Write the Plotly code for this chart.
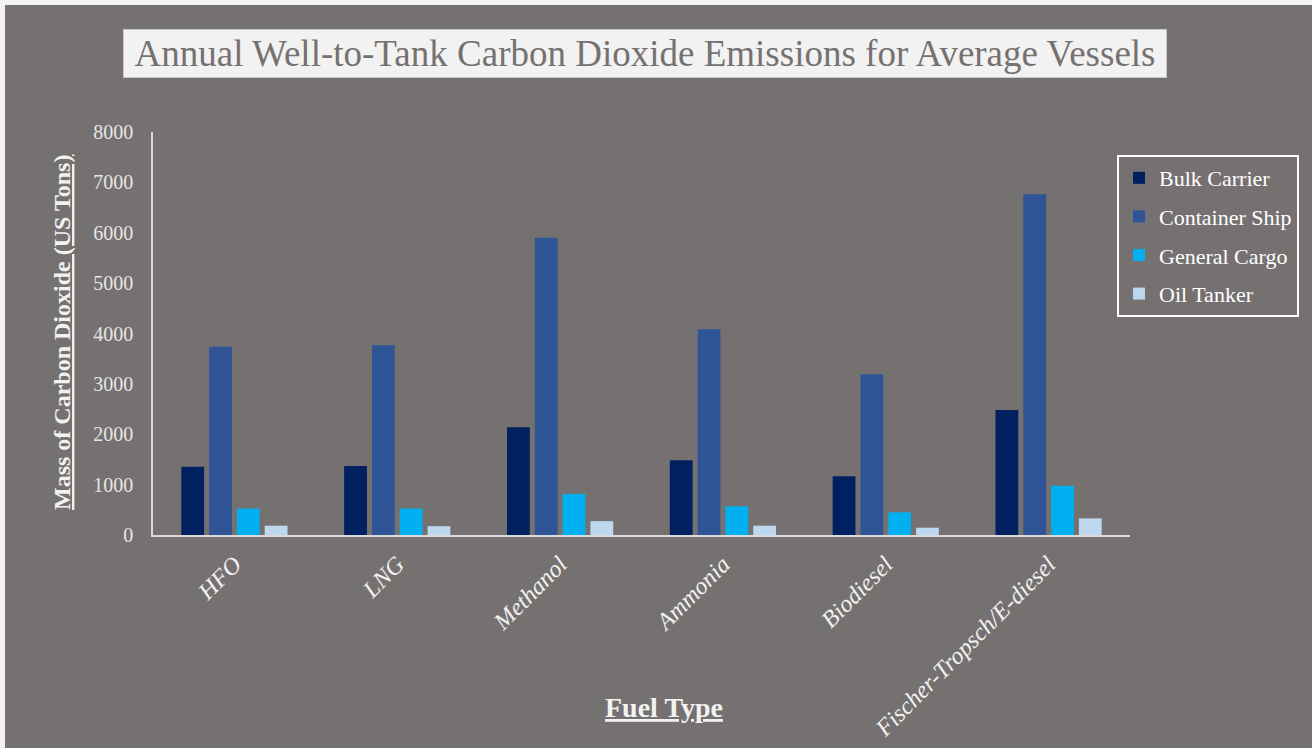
import plotly.graph_objects as go

fuel_types = ["HFO", "LNG", "Methanol", "Ammonia", "Biodiesel", "Fischer-Tropsch/E-diesel"]
bulk_carrier = [1355, 1370, 2140, 1485, 1165, 2480]
container_ship = [3735, 3765, 5900, 4085, 3190, 6765]
general_cargo = [525, 525, 815, 570, 450, 980]
oil_tanker = [185, 175, 275, 185, 145, 330]

series_names = ["Bulk Carrier", "Container Ship", "General Cargo", "Oil Tanker"]
series_values = [bulk_carrier, container_ship, general_cargo, oil_tanker]
series_colors = ["#002060", "#2f5597", "#00b0f0", "#bdd7ee"]

W, H = 1312, 748
L, R, T, B = 153, 1130, 132, 535  # plot area in pixels
BG = "#767171"
SERIF = "Liberation Serif"


def px_x(p):
    return (p - L) / (R - L)


def px_y(p):
    return (B - p) / (B - T)


fig = go.Figure()
for name, vals, col in zip(series_names, series_values, series_colors):
    fig.add_trace(go.Bar(
        x=fuel_types, y=vals, name=name, legendgroup=name,
        marker=dict(color=col, line=dict(width=0)),
    ))

fig.update_layout(
    width=W, height=H,
    margin=dict(l=L, r=W - R, t=T, b=H - B, pad=0, autoexpand=False),
    paper_bgcolor="#f2f2f2",
    plot_bgcolor="rgba(0,0,0,0)",
    barmode="group",
    bargap=0.317,
    bargroupgap=0.18,
    showlegend=True,
    legend=dict(
        x=px_x(1117), y=px_y(155), xanchor="left", yanchor="top",
        bgcolor="rgba(0,0,0,0)", bordercolor="#ffffff", borderwidth=2,
        font=dict(family=SERIF, size=22, color="#ffffff"),
        tracegroupgap=7, itemwidth=30,
    ),
    xaxis=dict(
        automargin=False,
        showline=True, linecolor="#d9d9d9", linewidth=1.5,
        showgrid=False, ticks="", tickangle=-45,
        tickfont=dict(family=SERIF, size=24, color="#f2f2f2", style="italic"),
        ticklabelstandoff=4,
    ),
    yaxis=dict(
        automargin=False,
        range=[0, 8000], dtick=1000,
        showline=True, linecolor="#d9d9d9", linewidth=1.5,
        showgrid=False, zeroline=False, ticks="",
        tickfont=dict(family=SERIF, size=20, color="#e6e6e6"),
        ticklabelstandoff=14,
    ),
    font=dict(family=SERIF),
)

# Gray canvas with the thin light strip along the top and left edges
fig.add_shape(type="rect", xref="paper", yref="paper", layer="below",
              x0=px_x(5), x1=px_x(W + 2), y0=px_y(H + 2), y1=px_y(5),
              fillcolor=BG, line=dict(width=0))

# Boxed chart title
fig.add_annotation(
    xref="paper", yref="paper", x=px_x(645), y=px_y(53.5),
    xanchor="center", yanchor="middle", showarrow=False,
    text="Annual Well-to-Tank Carbon Dioxide Emissions for Average Vessels",
    font=dict(family=SERIF, size=37, color="#767171"),
    bgcolor="#f2f2f2", bordercolor="#c9c9c9", borderwidth=1,
    width=1040, height=45,
)

# Axis titles
fig.add_annotation(
    xref="paper", yref="paper", x=px_x(62), y=px_y(333),
    xanchor="center", yanchor="middle", showarrow=False, textangle=-90,
    text="<b><u>Mass of Carbon Dioxide (US Tons)</u></b>",
    font=dict(family=SERIF, size=24, color="#f2f2f2"),
)
fig.add_annotation(
    xref="paper", yref="paper", x=px_x(664), y=px_y(707),
    xanchor="center", yanchor="middle", showarrow=False,
    text="<b><u>Fuel Type</u></b>",
    font=dict(family=SERIF, size=28, color="#f2f2f2"),
)

fig.write_html("out.html")
